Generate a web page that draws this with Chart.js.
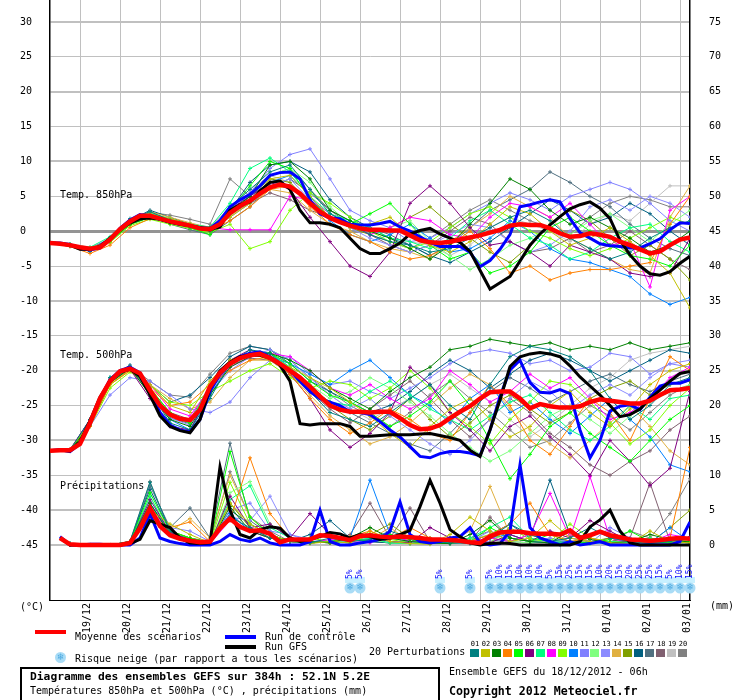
<!DOCTYPE html>
<html>
<head>
<meta charset="utf-8">
<script src="https://cdn.jsdelivr.net/npm/chart.js@4.4.1/dist/chart.umd.min.js"></script>
<style>
body { margin: 0; background: #fff; }
#wrap { position: relative; width: 740px; height: 700px; overflow: hidden; font-family: 'DejaVu Sans Mono', monospace; font-size: 10px; color: #000; }
#wrap canvas { position: absolute; left: 0; top: 0; }
.t { position: absolute; white-space: nowrap; line-height: 12px; }
.sw { position: absolute; }
.b { font-weight: bold; }
.flake { position: absolute; width: 11px; height: 11px; border-radius: 50%; background: #a9dcf6; color: #4aa8e0; font-family: 'DejaVu Sans', sans-serif; font-size: 9px; line-height: 11px; text-align: center; }
#box { position: absolute; left: 20px; top: 667px; width: 416px; height: 40px; border: 2px solid #000; }
.num { position: absolute; width: 10px; text-align: center; font-size: 7px; line-height: 8px; }
</style>
</head>
<body>
<div id="wrap">
  <canvas id="chart" width="740" height="700"></canvas>
  <div class="t" style="left:60px;top:189px">Temp. 850hPa</div>
  <div class="t" style="left:60px;top:349px">Temp. 500hPa</div>
  <div class="t" style="left:60px;top:480px">Précipitations</div>
  <div class="t" style="left:20px;top:601px">(°C)</div>
  <div class="t" style="left:710px;top:600px">(mm)</div>

  <div class="sw" style="left:35px;top:630px;width:31px;height:4px;background:#ff0000"></div>
  <div class="t" style="left:75px;top:631px">Moyenne des scénarios</div>
  <div class="sw" style="left:225px;top:635px;width:31px;height:4px;background:#0000ff"></div>
  <div class="t" style="left:265px;top:631px">Run de contrôle</div>
  <div class="sw" style="left:225px;top:645px;width:31px;height:4px;background:#000000"></div>
  <div class="t" style="left:265px;top:641px">Run GFS</div>
  <div class="flake" style="left:55px;top:652px">❄</div>
  <div class="t" style="left:75px;top:653px">Risque neige (par rapport a tous les scénarios)</div>
  <div class="t" style="left:369px;top:646px">20 Perturbations</div>
  <div id="pertLegend"></div>

  <div id="box"></div>
  <div class="t b" style="left:30px;top:671px;font-size:11.3px">Diagramme des ensembles GEFS sur 384h : 52.1N 5.2E</div>
  <div class="t" style="left:30px;top:685px">Températures 850hPa et 500hPa (°C) , précipitations (mm)</div>
  <div class="t" style="left:449px;top:666px">Ensemble GEFS du 18/12/2012 - 06h</div>
  <div class="t b" style="left:449px;top:685px;font-size:11.6px">Copyright 2012 Meteociel.fr</div>
</div>
<script>
// time axis: hours after the 18/12 06h run
const dayLabels = ['19/12', '20/12', '21/12', '22/12', '23/12', '24/12', '25/12', '26/12', '27/12', '28/12', '29/12', '30/12', '31/12', '01/01', '02/01', '03/01'];
const firstDayHour = 18;
const mainStep = 6;    // mean / control / GFS every 6h
const pertStep = 12;   // perturbations read every 12h

const leftTicks = [30, 25, 20, 15, 10, 5, 0, -5, -10, -15, -20, -25, -30, -35, -40, -45];
const rightTicks = [75, 70, 65, 60, 55, 50, 45, 40, 35, 30, 25, 20, 15, 10, 5, 0];

// snow risk (hour, % of scenarios)
const snowHours = [180, 186, 234, 252, 264, 270, 276, 282, 288, 294, 300, 306, 312, 318, 324, 330, 336, 342, 348, 354, 360, 366, 372, 378, 384];
const snowPct = [5, 5, 5, 5, 5, 10, 15, 10, 10, 10, 5, 15, 25, 15, 15, 10, 20, 15, 20, 25, 25, 15, 5, 10, 15];

// 850hPa temperature (°C), from 0h every 6h
const t850Mean = [-1.7,-1.8,-2.0,-2.3,-2.5,-2.3,-1.2,0.3,1.4,2.2, 2.2,1.8,1.4,1.1,0.8,0.4,0.3,1.0,2.6,3.6, 4.4,5.4,6.3,6.7,6.4,5.4,4.0,2.8,1.9,1.3, 0.8,0.4,0.2,0.2,0.1,0.1,-0.6,-1.3,-1.6,-1.7, -1.5,-1.2,-0.9,-0.6,-0.2,0.2,0.8,1.0,0.9,0.9, 0.4,-0.3,-0.8,-0.7,-0.3,-0.5,-0.8,-1.5,-2.0,-2.6, -3.2,-2.9,-2.0,-1.2,-0.9];
const t850Ctrl = [-1.7,-1.7,-1.9,-2.5,-2.7,-2.4,-1.2,0.4,1.6,2.4, 2.2,1.7,1.3,1.0,0.8,0.5,0.4,1.5,3.5,4.5, 5.3,6.5,8.0,8.4,8.5,7.5,4.5,2.5,1.9,1.8, 1.0,0.9,0.9,1.1,1.4,0.6,0.0,-0.8,-1.6,-2.2, -2.2,-2.2,-3.0,-5.1,-4.2,-2.6,-0.5,3.5,3.8,4.2, 4.5,4.2,1.8,-0.2,-1.0,-1.8,-2.1,-2.2,-2.4,-2.4, -1.8,-1.1,0.2,1.2,1.1];
const t850Gfs = [-1.7,-1.8,-2.0,-2.6,-2.6,-2.2,-1.0,0.3,1.2,1.8, 1.9,1.7,1.3,1.0,0.8,0.5,0.2,0.6,3.0,3.8, 4.2,5.8,7.0,7.2,6.0,3.0,1.2,1.2,1.0,0.5, -1.0,-2.5,-3.2,-3.2,-2.5,-1.7,-0.4,0.1,0.4,-0.4, -1.0,-1.6,-2.9,-5.6,-8.3,-7.4,-6.5,-4.3,-2.0,-0.4, 0.9,2.1,3.2,3.8,4.2,3.3,1.8,-1.3,-3.4,-5.0, -6.1,-6.3,-5.8,-4.6,-3.6];

// 500hPa temperature (°C), from 0h every 6h
const t500Mean = [-31.5,-31.4,-31.4,-30.5,-27.5,-24.0,-21.5,-20.1,-19.7,-20.4, -22.8,-25.0,-26.3,-26.9,-27.1,-25.6,-22.3,-20.3,-19.0,-18.2, -17.8,-17.6,-18.2,-19.0,-20.0,-21.0,-22.3,-23.7,-25.0,-25.6, -25.9,-25.9,-26.0,-25.9,-25.9,-26.8,-27.8,-28.4,-28.3,-27.8, -26.8,-25.9,-25.1,-24.0,-23.1,-23.0,-23.0,-24.0,-25.4,-24.8, -25.1,-25.3,-25.3,-25.1,-24.5,-24.1,-24.3,-24.5,-24.7,-24.7, -24.3,-23.5,-22.8,-22.7,-22.5];
const t500Ctrl = [-31.5,-31.3,-31.6,-30.5,-27.5,-24.0,-21.3,-20.0,-19.5,-20.3, -23.0,-26.0,-27.8,-28.5,-28.8,-27.0,-23.0,-20.5,-19.0,-18.0, -17.5,-17.3,-18.0,-19.0,-20.0,-21.5,-23.0,-24.0,-24.5,-25.0, -25.9,-26.0,-26.3,-27.3,-28.5,-29.5,-30.9,-32.3,-32.5,-31.9, -31.6,-31.6,-31.8,-32.2,-28.5,-23.7,-19.9,-18.5,-21.7,-23.1, -23.2,-22.7,-23.3,-28.5,-32.5,-30.0,-25.8,-25.1,-24.9,-25.6, -23.8,-22.2,-21.8,-21.8,-21.3];
const t500Gfs = [-31.5,-31.4,-31.5,-30.2,-27.2,-23.8,-21.5,-20.2,-19.8,-20.8, -23.5,-26.5,-28.0,-28.6,-28.9,-27.0,-22.5,-20.0,-18.8,-18.0, -17.8,-17.8,-18.2,-19.2,-21.5,-27.6,-27.8,-27.6,-27.6,-27.6, -28.0,-29.4,-29.4,-29.3,-29.2,-29.2,-29.2,-29.1,-29.0,-29.3, -29.6,-30.0,-31.4,-32.3,-28.5,-24.2,-19.4,-18.0,-17.6,-17.4, -17.6,-18.0,-19.3,-20.9,-22.2,-23.5,-25.0,-26.6,-26.3,-25.5, -24.0,-22.8,-21.5,-20.4,-20.1];

// precipitation (mm per 6h), from 6h every 6h
const rainMean = [1.0,0.1,0.0,0.0,0.0,0.0,0.0,0.3,2.4,5.3, 2.7,1.4,0.9,0.6,0.4,0.5,2.4,3.8,2.6,2.0, 2.1,1.6,0.4,0.8,0.8,0.8,1.4,1.3,1.0,0.7, 1.3,1.4,1.2,1.1,1.2,1.1,1.0,0.8,0.8,0.7, 0.6,0.4,0.3,1.2,1.8,1.9,1.9,1.7,1.6,1.6, 1.5,2.1,1.0,1.4,1.9,1.4,1.1,0.8,0.7,0.6, 0.7,0.9,1.0,0.9];
const rainCtrl = [1.2,0.0,0.0,0.1,0.1,0.0,0.0,0.0,1.0,4.5, 1.0,0.5,0.2,0.0,0.0,0.0,0.5,1.5,0.8,0.5, 1.0,0.3,0.0,0.0,0.0,0.5,5.0,0.5,0.0,0.0, 0.3,0.5,0.8,2.0,6.2,1.5,0.5,0.3,0.5,1.0, 1.2,2.5,0.3,0.0,0.2,2.0,11.5,2.5,1.0,0.5, 0.0,0.5,0.0,0.2,0.5,0.0,0.0,0.0,0.0,0.0, 0.0,0.0,0.5,3.3];
const rainGfs = [1.0,0.0,0.0,0.0,0.0,0.0,0.0,0.2,0.8,3.5, 3.0,2.5,1.0,0.3,0.2,0.3,11.2,5.0,1.5,1.0, 2.2,2.6,2.4,1.0,0.5,0.8,1.2,1.8,1.6,1.0, 1.5,1.2,0.8,1.0,1.5,2.1,5.5,9.3,6.0,2.2, 1.2,0.3,0.0,0.2,0.3,0.2,0.0,0.0,0.0,0.0, 0.0,0.0,0.5,2.6,3.6,5.0,2.0,0.3,0.0,0.0, 0.0,0.0,0.0,0.0];

const pertColors = ['#008080', '#c0c000', '#008000', '#ff8000', '#00ff00', '#800080', '#00ff80', '#ff00ff', '#80ff00', '#0080ff',
                    '#8080ff', '#80ff80', '#8c8cff', '#e0b040', '#80a000', '#006080', '#507080', '#806070', '#c0c0c0', '#808080'];

// perturbations 01..20, 850hPa, from 0h every 12h
const t850Pert = [
  [-1.7,-2.1,-2.8,-1.0,1.8,2.8,1.6,0.6,0.0,3.5, 6.0,8.5,9.5,6.0,2.5,1.0,-0.5,-1.5,-2.0,-3.0, -2.5,-1.0,0.5,2.0,3.0,1.5,-1.0,-2.5,-4.0,-3.0, -1.0,0.5,1.5],
  [-1.7,-2.0,-2.4,-1.4,1.2,2.5,1.8,1.0,0.2,2.0, 4.0,7.5,8.0,5.0,2.0,0.5,1.0,2.0,-0.5,-2.0, -3.0,-1.5,1.0,3.5,2.5,0.0,-2.0,-1.0,0.5,-1.5, -3.5,-6.0,-11.0],
  [-1.7,-1.9,-2.6,-1.3,1.0,2.0,1.2,0.8,0.5,2.8, 5.0,9.5,10.0,7.5,3.0,1.5,0.0,-1.0,-2.5,-4.0, -2.0,1.0,4.0,7.5,6.0,3.0,1.0,2.0,0.5,-1.0, -3.0,-2.0,0.0],
  [-1.7,-2.2,-3.2,-2.0,0.5,1.8,1.5,0.8,0.0,1.5, 3.5,6.0,6.5,3.5,1.0,-0.5,-1.5,-3.0,-4.0,-3.5, -2.0,0.0,-2.5,-6.0,-5.0,-7.0,-6.0,-5.5,-5.5,-5.0, -4.5,1.0,5.0],
  [-1.7,-2.0,-2.5,-1.5,1.0,2.0,1.2,0.5,-0.5,3.0, 6.5,10.0,9.0,4.5,2.0,1.0,2.5,4.0,1.0,-2.0, -4.0,-3.0,-6.0,-5.0,-3.0,0.5,2.0,0.0,-2.0,-3.5, -4.0,-5.0,-2.0],
  [-1.7,-2.0,-2.6,-1.1,1.3,2.3,1.4,0.8,0.4,3.2, 5.0,7.0,6.0,2.0,-1.5,-5.0,-6.5,-3.0,4.0,6.5, 4.0,0.5,-2.0,-1.5,-3.0,-5.0,-2.0,-3.0,-4.0,-6.0, -6.5,-6.0,-1.0],
  [-1.7,-1.9,-2.3,-0.8,1.6,2.6,1.8,1.0,0.6,4.0, 9.0,10.5,8.5,5.0,2.5,1.5,0.5,-1.0,-1.5,-2.5, -1.0,1.5,3.0,1.0,-1.0,-2.0,-4.0,-3.0,-1.0,0.5, 1.0,-1.5,-3.0],
  [-1.7,-2.0,-2.5,-1.2,1.2,2.0,1.3,0.9,0.5,0.2, 0.2,0.2,5.0,4.5,2.5,1.0,-0.5,0.5,2.0,1.5, -0.5,-1.0,2.0,4.0,3.5,2.0,4.0,1.0,-2.0,-1.5, -8.0,3.0,5.0],
  [-1.7,-2.1,-2.7,-1.6,0.8,1.7,1.0,0.4,-0.2,1.0, -2.5,-1.5,3.0,5.5,4.0,2.0,0.0,-1.5,-2.5,-1.5, 0.5,2.5,3.5,2.0,0.0,-1.0,-2.5,-3.5,-2.5,-1.0, 0.5,2.0,1.0],
  [-1.7,-2.0,-2.4,-1.3,1.1,2.1,1.3,0.7,0.3,2.5, 5.0,7.0,8.0,5.0,1.5,-0.5,-1.5,-0.5,1.0,-1.0, -3.0,-2.5,-1.0,1.5,0.0,-2.5,-4.0,-4.5,-5.5,-6.5, -9.0,-10.5,-9.5],
  [-1.7,-2.0,-2.5,-1.0,1.5,2.4,1.5,0.7,0.2,2.5, 5.5,9.0,11.0,11.8,7.5,3.0,1.5,0.5,-1.5,-1.0, 0.5,2.5,4.0,5.5,4.5,3.0,5.0,6.0,7.0,6.0, 4.0,1.5,0.0],
  [-1.7,-2.1,-2.6,-1.4,1.0,1.9,1.2,0.6,0.0,2.2, 4.5,8.0,9.0,7.0,3.5,1.0,0.0,0.5,1.5,-1.5, -3.5,-5.5,-4.0,-2.0,-1.0,0.5,-0.5,1.5,2.5,0.5, -1.5,1.0,3.0],
  [-1.7,-1.9,-2.4,-1.2,1.3,2.2,1.6,0.9,0.4,2.0, 4.0,6.5,7.5,4.5,2.0,0.5,-1.0,-2.0,-3.0,-2.0, -0.5,1.0,0.5,-1.5,-3.0,-2.0,0.0,3.5,4.5,3.0, 5.0,4.0,2.0],
  [-1.7,-2.0,-2.5,-1.3,1.4,2.8,2.0,1.2,0.5,2.2, 4.0,6.0,5.5,3.0,1.0,0.0,-1.5,-2.5,-3.0,-4.0, -1.5,0.5,2.5,5.0,3.5,2.0,-1.0,-2.5,-4.0,-5.5, -6.0,2.0,6.5],
  [-1.7,-2.0,-2.6,-1.3,1.2,2.3,1.5,0.9,0.5,2.8, 5.0,7.5,7.0,4.0,2.0,0.5,-0.5,0.5,2.0,3.5, 1.0,-1.0,-3.0,-4.5,-2.0,1.0,3.0,1.5,-1.0,-3.5, -2.0,-4.0,-7.0],
  [-1.7,-2.1,-2.9,-1.5,1.5,3.0,2.0,1.0,0.3,3.0, 7.0,9.5,10.0,8.5,4.5,2.0,0.5,-1.0,-2.0,-3.5, -4.5,-3.0,-1.5,0.5,2.5,4.5,3.0,1.0,2.0,4.0, 2.5,0.0,-2.0],
  [-1.7,-2.0,-2.6,-1.4,1.2,2.1,1.0,0.2,-0.5,1.5, 3.5,6.5,7.5,5.5,3.0,1.5,0.5,-0.5,-2.0,-3.5, -2.0,0.5,3.0,4.5,6.0,8.5,7.0,5.0,3.5,1.0, -1.0,-2.5,-3.5],
  [-1.7,-2.0,-2.5,-1.3,1.1,2.0,1.3,0.7,0.3,2.5, 4.0,5.5,4.5,3.0,2.0,1.0,-0.5,-2.0,-3.0,-2.0, 0.0,2.0,1.0,-1.5,-3.0,-2.5,-1.0,-3.0,-2.0,0.0, -2.0,-4.0,-5.5],
  [-1.7,-1.9,-2.4,-1.1,1.5,2.5,1.7,1.0,0.6,3.5, 6.0,8.0,7.0,4.0,2.0,1.0,0.0,-1.0,-1.5,-2.0, -3.5,-2.0,0.5,2.0,1.0,0.0,-1.5,1.0,2.5,1.5, 4.0,6.5,6.5],
  [-1.7,-2.0,-2.5,-1.1,1.5,2.7,2.3,1.7,1.0,7.5, 5.0,8.0,9.0,6.0,3.0,1.0,-0.5,-1.5,-2.5,-1.0, 1.0,3.0,4.5,3.0,1.5,0.5,-0.5,2.0,4.0,5.0, 4.5,3.5,3.5]
];

// perturbations 01..20, 500hPa, from 0h every 12h
const t500Pert = [
  [-31.5,-31.4,-27.0,-21.0,-19.5,-23.0,-27.5,-28.5,-24.0,-19.0, -17.0,-17.5,-20.0,-23.0,-26.0,-27.0,-28.0,-26.0,-24.0,-22.0, -25.0,-27.0,-22.0,-18.0,-16.5,-17.0,-18.0,-20.0,-24.0,-27.0, -25.0,-22.0,-21.0],
  [-31.5,-31.3,-27.5,-22.0,-19.8,-22.0,-25.0,-26.0,-21.5,-18.5, -17.5,-18.5,-19.5,-21.0,-22.5,-24.5,-26.5,-29.0,-31.0,-28.0, -25.5,-24.0,-27.0,-29.5,-28.0,-25.0,-23.0,-26.0,-28.0,-25.5, -22.0,-20.0,-19.0],
  [-31.5,-31.5,-27.8,-21.8,-19.6,-23.5,-27.0,-28.0,-23.5,-19.5, -18.0,-17.5,-18.5,-20.0,-22.5,-24.0,-25.5,-23.0,-21.0,-19.5, -17.0,-16.5,-15.5,-16.0,-16.5,-16.0,-17.0,-16.5,-17.0,-16.0, -17.0,-16.5,-16.0],
  [-31.5,-31.4,-28.0,-22.0,-20.0,-22.5,-25.0,-24.5,-22.0,-20.0, -18.5,-18.0,-20.5,-24.0,-27.0,-29.0,-27.5,-25.5,-27.0,-29.0, -30.0,-26.0,-22.0,-25.0,-30.0,-32.0,-28.0,-24.0,-26.0,-30.0, -24.0,-18.0,-20.0],
  [-31.5,-31.4,-27.5,-21.5,-19.5,-22.5,-26.0,-27.5,-22.5,-19.0, -17.5,-17.5,-19.0,-21.5,-23.5,-24.5,-26.0,-28.0,-26.5,-24.5, -21.5,-25.0,-30.0,-35.5,-32.0,-28.0,-26.0,-29.0,-31.0,-33.0, -30.0,-27.0,-25.0],
  [-31.5,-31.3,-27.0,-21.5,-19.8,-24.0,-28.0,-28.5,-23.0,-18.5, -17.0,-18.0,-20.5,-24.0,-28.5,-31.0,-29.0,-26.0,-19.5,-22.0, -26.0,-28.5,-31.5,-28.0,-26.5,-29.5,-32.0,-35.0,-30.0,-33.0, -36.5,-34.0,-23.0],
  [-31.5,-31.4,-27.5,-21.0,-19.5,-22.5,-26.5,-27.5,-22.0,-18.5, -17.5,-17.5,-19.5,-22.5,-24.5,-25.0,-23.0,-21.5,-23.5,-25.5, -27.0,-28.5,-26.5,-24.5,-23.5,-26.0,-28.5,-30.0,-28.0,-25.0, -27.0,-24.0,-23.5],
  [-31.5,-31.4,-27.2,-21.5,-19.5,-22.0,-25.5,-26.5,-22.5,-19.5, -18.0,-17.5,-18.0,-20.0,-22.5,-23.5,-22.0,-24.0,-25.5,-24.0, -20.0,-22.0,-24.5,-23.0,-20.5,-22.5,-21.0,-24.0,-27.0,-26.0, -24.0,-21.0,-19.5],
  [-31.5,-31.5,-28.0,-22.5,-20.2,-22.0,-24.5,-25.0,-23.0,-21.5, -20.0,-19.0,-21.0,-22.5,-21.5,-22.0,-24.0,-22.5,-20.0,-22.5, -26.0,-28.0,-30.5,-27.0,-24.5,-21.5,-22.0,-24.5,-27.5,-30.5, -28.5,-25.0,-22.5],
  [-31.5,-31.4,-27.5,-21.5,-19.6,-23.0,-27.0,-28.5,-23.5,-19.0, -17.5,-18.0,-19.0,-20.5,-22.0,-20.0,-18.5,-21.0,-23.5,-25.0, -27.5,-24.0,-22.0,-26.0,-24.5,-27.0,-29.0,-26.5,-24.0,-27.0, -29.5,-33.5,-34.5],
  [-31.5,-31.4,-28.0,-23.5,-21.0,-21.5,-23.5,-25.5,-26.0,-24.5, -21.0,-18.5,-18.0,-20.5,-22.0,-21.5,-23.0,-24.0,-22.5,-21.0, -19.0,-17.5,-17.0,-17.5,-19.0,-18.5,-20.0,-19.5,-17.5,-18.0, -20.5,-19.0,-19.5],
  [-31.5,-31.4,-27.5,-21.6,-19.7,-22.6,-26.2,-27.2,-22.4,-19.0, -17.8,-17.8,-19.5,-22.0,-24.0,-23.0,-21.0,-22.5,-24.5,-26.5, -29.0,-31.0,-33.0,-31.5,-29.0,-26.5,-25.0,-27.0,-29.0,-26.5, -24.5,-23.0,-22.0],
  [-31.5,-31.4,-27.3,-21.4,-19.6,-23.0,-26.8,-27.8,-23.2,-20.0, -18.0,-17.0,-18.5,-21.0,-23.5,-25.5,-24.0,-26.5,-28.5,-30.5, -32.0,-30.0,-27.0,-24.0,-21.5,-23.0,-25.5,-23.5,-22.0,-23.5, -21.0,-19.0,-18.5],
  [-31.5,-31.4,-27.8,-22.0,-20.0,-22.0,-24.0,-25.5,-24.5,-21.0, -18.5,-18.5,-20.5,-23.5,-26.5,-28.5,-30.5,-29.5,-27.5,-25.0, -22.5,-20.5,-22.0,-25.5,-28.5,-30.5,-32.5,-30.0,-27.5,-25.0, -28.0,-31.5,-33.5],
  [-31.5,-31.4,-27.4,-21.5,-19.6,-22.8,-26.5,-27.5,-22.8,-19.2, -17.8,-17.5,-19.5,-22.0,-25.0,-27.0,-28.5,-26.5,-24.0,-27.0, -29.5,-27.5,-25.0,-23.5,-25.5,-27.5,-26.0,-24.0,-22.5,-21.5, -23.5,-22.0,-21.5],
  [-31.5,-31.4,-27.0,-21.0,-19.2,-22.0,-24.5,-23.5,-21.0,-18.0, -16.5,-17.0,-19.0,-21.5,-23.0,-24.5,-26.0,-25.0,-23.0,-20.5, -18.5,-20.0,-22.5,-20.5,-18.5,-17.5,-18.5,-20.0,-21.5,-20.0, -18.5,-17.0,-17.5],
  [-31.5,-31.4,-27.6,-21.7,-19.8,-23.2,-26.8,-27.6,-22.8,-19.2, -17.6,-18.0,-20.0,-22.5,-24.5,-26.0,-27.5,-29.0,-30.5,-31.5, -29.0,-26.0,-23.0,-21.0,-22.5,-24.5,-23.0,-21.5,-20.5,-22.0, -23.0,-21.5,-20.5],
  [-31.5,-31.4,-27.6,-21.6,-19.8,-22.6,-26.0,-27.0,-22.2,-19.2, -18.2,-18.5,-20.5,-23.0,-25.5,-27.5,-25.5,-23.5,-21.5,-24.0, -27.0,-29.5,-27.0,-24.0,-26.0,-29.0,-31.0,-33.5,-35.0,-33.0, -31.5,-28.5,-26.5],
  [-31.5,-31.4,-27.5,-21.4,-19.6,-22.8,-26.4,-27.4,-22.6,-19.0, -17.6,-17.6,-19.0,-21.0,-23.5,-25.5,-27.0,-25.5,-24.0,-22.0, -20.5,-22.5,-24.5,-27.0,-29.5,-27.5,-25.0,-22.5,-21.0,-18.5, -17.5,-17.0,-16.5],
  [-31.5,-31.4,-27.2,-21.2,-19.4,-21.5,-23.5,-23.8,-20.5,-17.5, -16.5,-17.0,-18.5,-21.0,-23.0,-25.0,-26.5,-28.0,-26.0,-23.5, -21.5,-24.0,-26.0,-28.5,-31.0,-30.0,-27.5,-25.0,-26.5,-28.5, -26.0,-23.5,-22.0]
];

// perturbations 01..20, precipitation, from 12h every 12h
const rainPert = [
  [0.2,0,0,0.5,9.0,2.0,0.5,0.2,4.0,2.5, 1.0,0.5,0.3,1.0,0.5,0.8,2.0,1.0,0.5,0.3, 0.2,1.0,3.0,1.5,0.5,1.0,2.5,1.0,0.5,0.2, 0.5,1.0],
  [0.1,0,0,0.2,5.0,3.0,1.5,0.3,6.0,3.0, 1.5,0.5,0.2,0.5,0.3,1.5,0.5,0.2,0.1,1.5, 4.0,2.0,0.5,1.0,3.5,1.0,0.5,0.3,0.2,2.0, 0.5,0.3],
  [0.1,0,0,0.3,6.0,1.5,0.8,0.2,5.5,2.0, 1.0,0.8,0.5,0.3,1.0,2.5,1.0,0.5,0.3,0.2, 1.5,3.5,1.0,0.5,0.3,2.0,0.8,0.3,0.5,1.5, 0.8,0.4],
  [0.1,0,0,0.2,4.0,2.5,3.3,0.5,3.5,12.5, 4.5,1.0,0.5,0.3,1.2,2.0,0.8,2.5,1.0,0.5, 0.5,1.5,3.0,6.0,1.5,0.5,1.0,0.3,0.2,0.5, 1.0,14.0],
  [0.2,0,0,0.5,7.5,2.0,1.0,0.3,13.4,4.0, 1.5,0.5,0.3,0.5,1.0,0.5,1.5,0.8,0.3,0.2, 0.5,2.5,1.0,0.5,1.5,0.5,0.3,0.8,2.0,0.5, 0.3,0.5],
  [0.1,0,0,0.3,6.5,1.8,0.8,0.2,7.0,2.5, 3.0,1.0,4.5,1.5,0.8,1.2,0.5,0.3,2.5,1.0, 0.5,0.3,1.5,0.5,2.0,1.0,3.5,2.0,0.5,0.3, 0.5,1.2],
  [0.1,0,0,0.3,7.0,1.5,0.6,0.2,6.5,8.5, 2.5,1.0,0.5,0.3,0.5,1.0,0.3,0.2,0.5,0.3, 1.0,2.5,4.0,1.0,0.5,0.3,0.2,0.5,0.3,1.0, 0.5,0.3],
  [0.1,0,0,0.2,5.5,1.5,0.5,0.2,3.5,2.0, 1.0,0.5,0.3,0.8,0.5,0.3,1.5,0.5,0.3,0.2, 0.5,1.0,0.5,1.5,7.4,1.0,9.8,1.0,0.3,0.5, 1.5,1.0],
  [0.1,0,0,0.3,5.0,2.0,1.0,0.3,9.0,3.0, 1.5,0.5,1.0,0.5,0.3,2.0,0.8,0.3,0.2,1.0, 0.5,0.3,2.5,0.8,0.5,3.0,1.0,0.5,0.3,0.5, 0.8,0.5],
  [0.2,0,0,0.3,6.0,1.8,0.8,0.3,4.5,2.0, 1.5,0.5,0.3,0.5,1.0,9.3,1.5,0.5,0.3,0.5, 0.3,1.0,1.5,0.5,0.3,0.5,0.3,0.2,0.5,0.3, 2.5,0.5],
  [0.1,0,0,0.3,4.5,2.5,2.0,0.5,5.0,6.0, 2.0,1.5,0.8,0.5,0.3,0.5,1.0,0.5,0.3,0.2, 0.5,2.0,1.0,0.5,1.0,0.5,0.3,2.5,1.0,0.5, 0.3,0.5],
  [0.1,0,0,0.3,6.0,1.5,0.8,0.2,7.5,9.1, 3.0,1.0,0.5,0.3,0.5,0.8,0.3,0.2,0.5,0.3, 0.8,1.5,0.5,0.3,0.8,0.5,1.0,0.5,0.3,0.2, 0.5,0.8],
  [0.1,0,0,0.2,5.0,1.5,0.6,0.3,4.0,3.5, 7.0,1.5,0.5,0.3,0.5,1.0,0.5,0.3,0.2,0.5, 0.3,0.5,1.0,0.5,0.3,1.0,0.5,0.3,0.5,0.3, 0.2,0.5],
  [0.1,0,0,0.2,4.5,2.0,3.8,1.0,10.0,4.0, 1.5,0.5,0.3,0.5,1.0,0.8,2.5,0.5,0.3,0.5, 2.0,8.4,1.5,0.5,0.3,1.5,0.5,0.3,0.5,1.0, 0.5,0.3],
  [0.1,0,0,0.3,5.5,2.0,1.0,0.2,6.0,2.5, 1.0,0.5,0.3,0.5,0.3,1.5,3.0,1.0,0.5,0.3, 0.5,1.0,0.5,1.5,0.5,0.3,0.5,1.0,0.5,0.3, 2.5,5.0],
  [0.2,0,0,0.5,8.0,2.0,1.0,0.3,5.0,3.0, 1.5,0.5,1.5,3.5,1.0,0.5,0.3,0.2,0.5,1.0, 0.5,1.5,3.0,1.0,9.3,1.5,0.5,0.3,0.5,0.3, 0.5,1.0],
  [0.1,0,0,0.3,8.5,2.5,5.3,1.0,14.6,3.5, 1.5,0.5,0.3,0.5,1.0,0.5,0.3,0.5,1.0,0.5, 0.3,0.5,1.0,0.5,0.3,0.5,0.3,1.0,0.5,0.3, 0.5,0.8],
  [0.1,0,0,0.3,6.0,1.5,0.8,0.3,4.5,2.0, 1.0,0.5,0.3,0.5,1.5,6.0,1.0,5.3,0.5,0.3, 0.5,4.0,1.0,0.5,0.3,0.5,0.3,0.5,1.0,8.9, 0.5,0.3],
  [0.1,0,0,0.3,7.0,1.8,0.8,0.3,6.0,2.5, 1.0,0.5,0.3,0.5,0.3,0.5,1.0,0.5,0.3,0.5, 0.3,1.0,0.5,0.3,0.8,0.5,0.3,0.5,0.3,0.5, 0.3,0.5],
  [0.1,0,0,0.5,9.1,2.0,1.0,0.5,10.5,4.0, 2.0,0.5,0.3,0.5,0.8,0.5,0.3,0.5,0.3,0.5, 1.0,2.0,0.5,0.3,0.5,1.0,0.5,0.3,2.0,1.0, 4.5,9.5]
];

// left axis: 30 at y=22, -45 at y=545 ; right axis (mm) = left + 45
const yMax = 33.155;
const yMin = -52.888;
const mmOffset = 45;

function points(values, start, step) {
    return values.map((v, i) => ({ x: start + i * step, y: v }));
}

const datasets = [];

function addMain(values, start, color, width, axis, order) {
    datasets.push({
        data: points(values, start, mainStep),
        borderColor: color,
        backgroundColor: color,
        borderWidth: width,
        pointRadius: 0,
        yAxisID: axis,
        order: order
    });
}

function addPert(values, start, color, axis) {
    datasets.push({
        data: points(values, start, pertStep),
        borderColor: color,
        backgroundColor: color,
        borderWidth: 1,
        pointStyle: 'cross',
        pointRadius: 2,
        pointBorderWidth: 1,
        pointBorderColor: color,
        yAxisID: axis,
        order: 5
    });
}

// mean on top, then GFS, then control, perturbations below
addMain(t850Mean, 0, '#ff0000', 4.5, 'y', 0);
addMain(t500Mean, 0, '#ff0000', 4.5, 'y', 0);
addMain(rainMean, 6, '#ff0000', 4.5, 'yR', 0);
addMain(t850Gfs, 0, '#000000', 3, 'y', 1);
addMain(t500Gfs, 0, '#000000', 3, 'y', 1);
addMain(rainGfs, 6, '#000000', 3, 'yR', 1);
addMain(t850Ctrl, 0, '#0000ff', 3, 'y', 2);
addMain(t500Ctrl, 0, '#0000ff', 3, 'y', 2);
addMain(rainCtrl, 6, '#0000ff', 3, 'yR', 2);
for (let m = 0; m < pertColors.length; m++) {
    addPert(t850Pert[m], 0, pertColors[m], 'y');
    addPert(t500Pert[m], 0, pertColors[m], 'y');
    addPert(rainPert[m], 12, pertColors[m], 'yR');
}

// snow risk row along the bottom of the plot
const snowPlugin = {
    id: 'snowRow',
    afterDatasetsDraw(chart) {
        const ctx = chart.ctx;
        const xs = chart.scales.x;
        const base = chart.chartArea.bottom;
        ctx.save();
        snowHours.forEach((h, i) => {
            const x = xs.getPixelForValue(h);
            ctx.fillStyle = '#c8f0ff';
            ctx.fillRect(x - 5, base - 23, 10, 6);
            ctx.fillStyle = '#a9dcf6';
            ctx.beginPath();
            ctx.arc(x, base - 12, 5.5, 0, Math.PI * 2);
            ctx.fill();
            ctx.fillStyle = '#4aa8e0';
            ctx.font = '9px "DejaVu Sans"';
            ctx.textAlign = 'center';
            ctx.textBaseline = 'middle';
            ctx.fillText('❄', x, base - 12);
            ctx.save();
            ctx.translate(x, base - 21);
            ctx.rotate(-Math.PI / 2);
            ctx.fillStyle = '#1010ff';
            ctx.font = '8px "DejaVu Sans Mono"';
            ctx.textAlign = 'left';
            ctx.fillText(snowPct[i] + '%', 0, 0);
            ctx.restore();
        });
        ctx.restore();
    }
};

Chart.defaults.font.family = "'DejaVu Sans Mono', monospace";
Chart.defaults.font.size = 10;
Chart.defaults.color = '#000';

new Chart(document.getElementById('chart'), {
    type: 'line',
    data: { datasets: datasets },
    options: {
        responsive: false,
        devicePixelRatio: 1,
        animation: false,
        events: [],
        layout: { padding: { left: 20, right: 0, top: 0, bottom: 0 }, autoPadding: false },
        elements: { line: { tension: 0 } },
        plugins: { legend: { display: false }, tooltip: { enabled: false } },
        scales: {
            x: {
                type: 'linear',
                min: 0,
                max: 384,
                afterBuildTicks: s => { s.ticks = dayLabels.map((d, i) => ({ value: firstDayHour + 24 * i })); },
                afterFit: s => { s.height = 100; s.paddingLeft = 0; s.paddingRight = 0; },
                ticks: {
                    autoSkip: false,
                    minRotation: 90,
                    maxRotation: 90,
                    labelOffset: 7,
                    padding: 3,
                    callback: (v, i) => dayLabels[i]
                },
                grid: { color: '#c0c0c0', lineWidth: 1, drawTicks: false },
                border: { display: true, color: '#000', width: 1 }
            },
            y: {
                type: 'linear',
                position: 'left',
                min: yMin,
                max: yMax,
                afterBuildTicks: s => { s.ticks = leftTicks.map(v => ({ value: v })); },
                afterFit: s => { s.width = 30; s.paddingTop = 0; s.paddingBottom = 0; },
                ticks: { crossAlign: 'far', padding: 0 },
                grid: {
                    drawTicks: false,
                    color: c => (c.tick && c.tick.value === 0) ? '#949494' : '#c0c0c0',
                    lineWidth: c => {
                        const v = c.tick ? c.tick.value : 1;
                        if (v === 0) return 3;
                        return (v % 10 === 0 || v === -45) ? 2 : 1;
                    }
                },
                border: { display: true, color: '#000', width: 1.5 }
            },
            yR: {
                type: 'linear',
                position: 'right',
                min: yMin + mmOffset,
                max: yMax + mmOffset,
                afterBuildTicks: s => { s.ticks = rightTicks.map(v => ({ value: v })); },
                afterFit: s => { s.width = 50; s.paddingTop = 0; s.paddingBottom = 0; },
                ticks: { crossAlign: 'near', padding: 0 },
                grid: { drawOnChartArea: false, drawTicks: true, tickLength: 19, tickColor: 'rgba(0,0,0,0)' },
                border: { display: true, color: '#000', width: 1.5 }
            }
        }
    },
    plugins: [snowPlugin]
});

// perturbation colour key
const legendBox = document.getElementById('pertLegend');
pertColors.forEach((c, i) => {
    const left = 470 + i * 10.95;
    const n = document.createElement('div');
    n.className = 'num';
    n.style.left = left + 'px';
    n.style.top = '640px';
    n.textContent = String(i + 1).padStart(2, '0');
    legendBox.appendChild(n);
    const sq = document.createElement('div');
    sq.className = 'sw';
    sq.style.left = left + 'px';
    sq.style.top = '649px';
    sq.style.width = '9px';
    sq.style.height = '8px';
    sq.style.background = c;
    legendBox.appendChild(sq);
});
</script>
</body>
</html>
